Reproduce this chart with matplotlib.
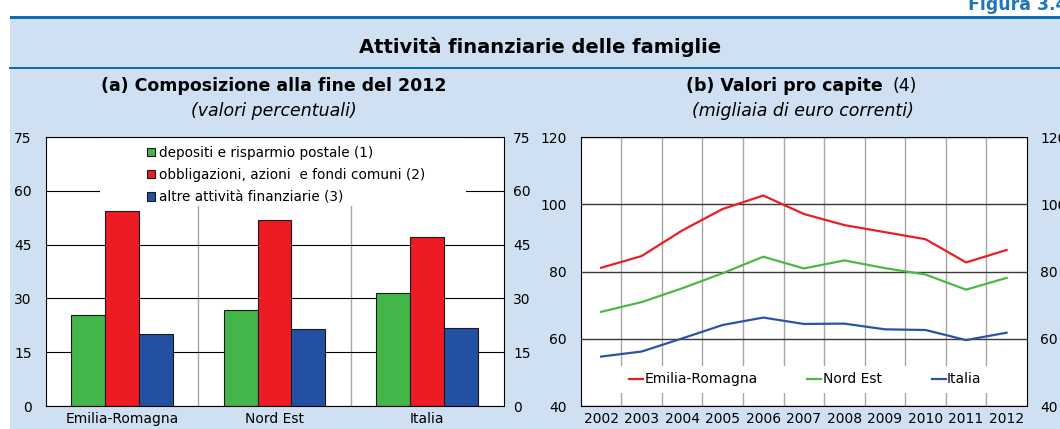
import numpy as np
import matplotlib
matplotlib.use("Agg")
import matplotlib.pyplot as plt
from matplotlib.patches import Rectangle

# (a) composition at end of 2012, percent
regions = ['Emilia-Romagna', 'Nord Est', 'Italia']
depositi = [25.4, 26.8, 31.4]
obbligazioni = [54.5, 51.9, 47.1]
altre = [20.2, 21.4, 21.8]
bar_labels = ['depositi e risparmio postale (1)',
              'obbligazioni, azioni  e fondi comuni (2)',
              'altre attività finanziarie (3)']

# (b) per capita values, thousands of euro
years = ['2002', '2003', '2004', '2005', '2006', '2007', '2008', '2009', '2010', '2011', '2012']
emilia = [81.1, 84.6, 92.2, 98.6, 102.6, 97.1, 93.8, 91.7, 89.6, 82.7, 86.4]
nord_est = [68.0, 70.9, 75.0, 79.5, 84.4, 80.9, 83.3, 81.0, 79.1, 74.6, 78.1]
italia = [54.7, 56.2, 60.1, 64.1, 66.3, 64.4, 64.5, 62.8, 62.6, 59.6, 61.8]

W, H = 1060, 429
BG = '#CEE0F1'
RULE = '#0A6FB0'
GREEN, RED, BLUE = '#44B549', '#ED1C24', '#2450A4'
LGREEN, LRED, LBLUE = '#4CB848', '#ED1C24', '#2C53A5'

plt.rcParams['font.family'] = 'DejaVu Sans'


def fx(px):
    return px / W


def fy(py):
    return 1 - py / H


fig = plt.figure(figsize=(W / 100, H / 100), dpi=100, facecolor='white')

# header band and rules (kept below the axes)
fig.patches.append(Rectangle((fx(10), 0), 1 - fx(10), fy(18), transform=fig.transFigure,
                             fc=BG, ec='none', zorder=-3))
fig.patches.append(Rectangle((fx(10), fy(18.5)), 1 - fx(10), 2.5 / H, transform=fig.transFigure,
                             fc=RULE, ec='none', zorder=-2))
fig.patches.append(Rectangle((fx(9), fy(69)), 1 - fx(9), 2.3 / H, transform=fig.transFigure,
                             fc=RULE, ec='none', zorder=-2))

fig.text(fx(968), fy(10), 'Figura 3.4', color='#1F75B8', fontsize=12.5, fontweight='bold',
         ha='left', va='baseline')
fig.text(fx(540), fy(53.3), 'Attività finanziarie delle famiglie', fontsize=14,
         fontweight='bold', ha='center', va='baseline')

fig.text(fx(274), fy(91.3), '(a) Composizione alla fine del 2012', fontsize=12.5,
         fontweight='bold', ha='center', va='baseline')
fig.text(fx(274), fy(116.5), '(valori percentuali)', fontsize=12.5, style='italic',
         ha='center', va='baseline')
fig.text(fx(883), fy(91.3), '(b) Valori pro capite', fontsize=12.5,
         fontweight='bold', ha='right', va='baseline')
fig.text(fx(893), fy(91.3), '(4)', fontsize=12.5, ha='left', va='baseline')
fig.text(fx(803), fy(116.5), '(migliaia di euro correnti)', fontsize=12.5, style='italic',
         ha='center', va='baseline')

# ---- panel (a): bars
ax1 = fig.add_axes([fx(45.5), fy(406), 458 / W, 269 / H])
x = np.arange(len(regions))
bw = 0.222
series = [(depositi, GREEN), (obbligazioni, RED), (altre, BLUE)]
for i, (vals, col) in enumerate(series):
    ax1.bar(x + (i - 1) * bw, vals, bw, color=col, edgecolor='#1a1a1a', linewidth=0.8,
            zorder=2, label=bar_labels[i])
ax1.set_xlim(-0.5, 2.5)
ax1.set_ylim(0, 75)
ax1.set_yticks(np.arange(0, 76, 15))
ax1.set_xticks(x)
ax1.set_xticklabels(regions)
ax1.set_xticks([0.5, 1.5], minor=True)
ax1.set_axisbelow(True)
ax1.grid(axis='y', which='major', color='black', linewidth=0.8)
ax1.grid(axis='x', which='minor', color='#A6A6A6', linewidth=1.0)
ax1.tick_params(which='both', length=0, labelsize=10)
ax1.tick_params(axis='y', pad=10)
ax1.tick_params(axis='x', pad=4.2)
for s in ax1.spines.values():
    s.set_color('black')
    s.set_linewidth(0.8)
ax1.add_patch(Rectangle((0.119, 0.743), 0.80, 0.257, transform=ax1.transAxes,
                        fc='white', ec='none', zorder=1))
ax1.legend(loc='upper left', bbox_to_anchor=(0.207, 0.993), frameon=False, borderpad=0,
           handlelength=0.6, handleheight=0.6, handletextpad=0.25, labelspacing=0.6,
           fontsize=9.8)
ax1r = ax1.twinx()
ax1r.set_ylim(0, 75)
ax1r.set_yticks(np.arange(0, 76, 15))
ax1r.tick_params(length=0, labelsize=10, pad=6.8)
for s in ax1r.spines.values():
    s.set_visible(False)

# ---- panel (b): lines
ax2 = fig.add_axes([fx(580.8), fy(406), 446.1 / W, 269 / H])
xl = np.arange(len(years))
ax2.plot(xl, emilia, color=LRED, linewidth=1.6, label='Emilia-Romagna', zorder=3)
ax2.plot(xl, nord_est, color=LGREEN, linewidth=1.6, label='Nord Est', zorder=3)
ax2.plot(xl, italia, color=LBLUE, linewidth=1.6, label='Italia', zorder=3)
ax2.set_xlim(-0.5, len(years) - 0.5)
ax2.set_ylim(40, 120)
ax2.set_yticks(np.arange(40, 121, 20))
ax2.set_xticks(xl)
ax2.set_xticklabels(years)
ax2.set_xticks(xl[:-1] + 0.5, minor=True)
ax2.set_axisbelow(True)
ax2.grid(axis='y', which='major', color='#3a3a3a', linewidth=1.0)
ax2.grid(axis='x', which='minor', color='#A6A6A6', linewidth=1.0)
ax2.tick_params(which='both', length=0, labelsize=10)
ax2.tick_params(axis='y', pad=10.3)
ax2.tick_params(axis='x', pad=4.2)
for s in ax2.spines.values():
    s.set_color('black')
    s.set_linewidth(0.8)
ax2.add_patch(Rectangle((0.02, 0.047), 0.96, 0.103, transform=ax2.transAxes,
                        fc='white', ec='none', zorder=1))
ax2.legend(loc='center left', bbox_to_anchor=((622 - 580.8) / 446.1, 0.099), ncol=3,
           frameon=False, borderpad=0, handlelength=1.0, handletextpad=0.1,
           columnspacing=3.6, fontsize=10)
ax2r = ax2.twinx()
ax2r.set_ylim(40, 120)
ax2r.set_yticks(np.arange(40, 121, 20))
ax2r.tick_params(length=0, labelsize=10, pad=9.7)
for s in ax2r.spines.values():
    s.set_visible(False)

fig.savefig('out.png', dpi=100, facecolor='white')
